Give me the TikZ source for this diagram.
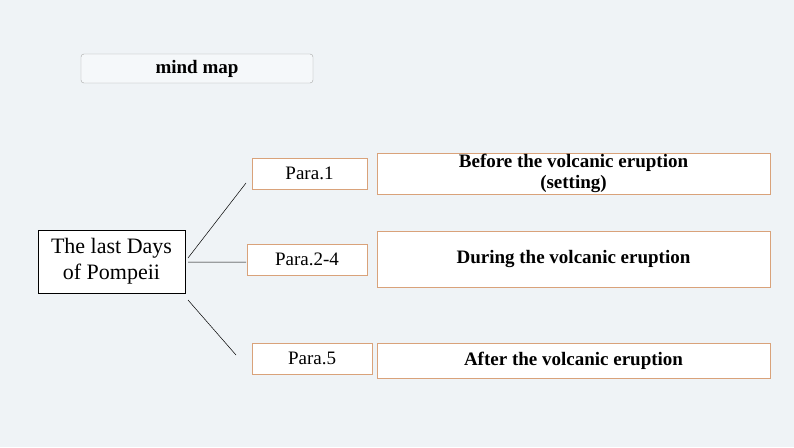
\documentclass[tikz,border=0pt]{standalone}
\usepackage{fontspec}
\setmainfont{Liberation Serif}
\begin{document}
\begin{tikzpicture}[x=1pt,y=-1pt,
  box/.style={draw=boxc,fill=white,line width=0.8pt,inner sep=0pt,align=center,font=\fontsize{19}{20}\selectfont},
  bbox/.style={box,font=\bfseries\fontsize{19}{21}\selectfont}]
\definecolor{bg}{HTML}{EFF3F6}
\definecolor{boxc}{HTML}{D9A27A}
\fill[bg] (0,0) rectangle (794,447);
\useasboundingbox (0,0) rectangle (794,447);
\node[draw=gray!70,fill=bg!60!white,rounded corners=3pt,minimum width=232pt,minimum height=29pt,font=\bfseries\fontsize{19}{20}\selectfont] (mm) at (197,68.5) {mind map};
\node[draw=black,fill=white,line width=0.8pt,minimum width=147pt,minimum height=63pt,inner sep=0pt,align=center,font=\fontsize{22}{26}\selectfont] (c) at (111.5,261.5) {The last Days\\of Pompeii};
\node[box,minimum width=115pt,minimum height=31pt] (p1) at (309.5,173.5) {Para.1};
\node[box,minimum width=120pt,minimum height=31pt] (p2) at (307,259.5) {Para.2-4};
\node[box,minimum width=120pt,minimum height=31pt] (p5) at (312,358.5) {Para.5};
\node[bbox,minimum width=393pt,minimum height=41pt] (t1) at (573.5,173.5) {Before the volcanic eruption\\(setting)};
\node[bbox,minimum width=393pt,minimum height=56pt] (t2) at (573.5,259) {During the volcanic eruption};
\node[bbox,minimum width=393pt,minimum height=35pt] (t3) at (573.5,360.5) {After the volcanic eruption};
\coordinate (a1) at (188,258);\coordinate (e1) at (246,183);
\coordinate (a2) at (188,262);\coordinate (e2) at (246,262);
\coordinate (a3) at (188,300);\coordinate (e3) at (236,355);
\draw[line width=0.5pt] (a1)--(e1) (a2)--(e2) (a3)--(e3);
\end{tikzpicture}
\end{document}
